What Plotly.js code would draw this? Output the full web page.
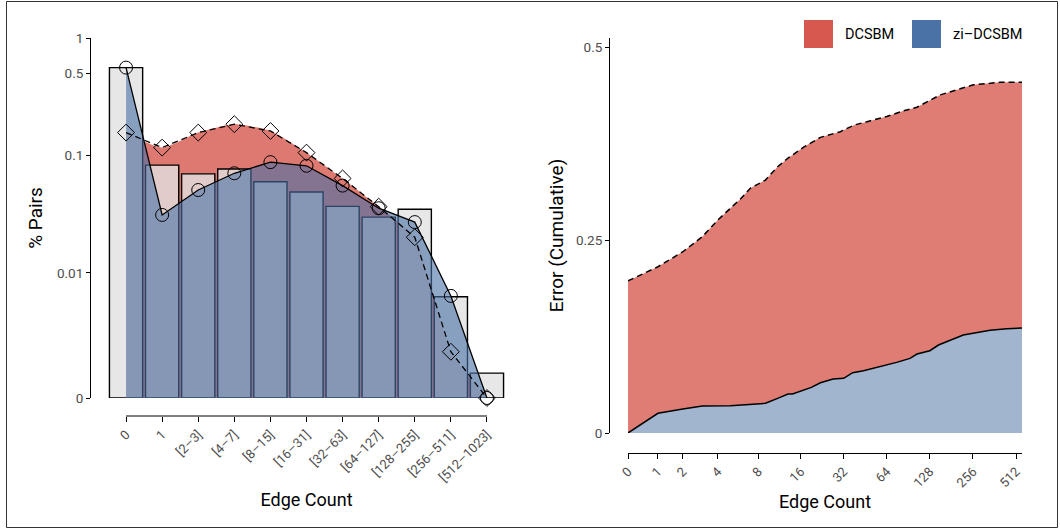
<!DOCTYPE html>
<html>
<head>
<meta charset="utf-8">
<script src="https://cdn.plot.ly/plotly-3.0.1.min.js"></script>
<style>html,body{margin:0;padding:0;background:#fff;}#chart{width:1060px;height:531px;}</style>
</head>
<body>
<div id="chart"></div>
<script>
// ---------- data: left panel (% pairs per edge-count bin) ----------
const categories = ['0','1','[2–3]','[4–7]','[8–15]','[16–31]','[32–63]','[64–127]','[128–255]','[256–511]','[512–1023]'];
const observedPct = [0.56, 0.083, 0.070, 0.077, 0.060, 0.049, 0.037, 0.030, 0.035, 0.0062, 0.00088];
const dcsbmPct    = [0.157, 0.117, 0.157, 0.185, 0.162, 0.106, 0.064, 0.0368, 0.0202, 0.0018, 0];
const ziPct       = [0.56, 0.0313, 0.051, 0.0708, 0.088, 0.082, 0.0556, 0.0357, 0.0272, 0.0063, 0];
const leftYTicks  = [0, 0.01, 0.1, 0.5, 1];
const leftYLabels = ['0', '0.01', '0.1', '0.5', '1'];

// ---------- data: right panel (cumulative error) ----------
const dcsbmEdge = [0,1,2,3,4,5,6,7,9,11,13,17,22,30,38,46,64,84,104,151,197,257,395,563];
const dcsbmErr  = [0.197,0.2154,0.2348,0.2543,0.2759,0.291,0.304,0.317,0.3277,0.345,0.356,0.371,0.383,0.390,0.399,0.403,0.410,0.4175,0.422,0.438,0.444,0.451,0.4543,0.4543];
const ziEdge = [0,1,2,3,5,9,11,13,14,16,19,22,27,32,37,44,58,75,93,104,128,147,219,257,337,441,563];
const ziErr  = [0,0.0255,0.0311,0.035,0.0354,0.0385,0.0449,0.0505,0.0505,0.0544,0.0591,0.0651,0.0699,0.0708,0.0781,0.0807,0.0858,0.0915,0.0967,0.1023,0.1066,0.114,0.1269,0.1295,0.133,0.1352,0.136];
const rightXTicks = [0,1,2,4,8,16,32,64,128,256,512];
const rightYTicks = [0, 0.25, 0.5];
const rightYLabels = ['0', '0.25', '0.5'];
const legendNames = ['DCSBM', 'zi–DCSBM'];

// ---------- pseudo-log transforms ----------
const sigmaL = 0.00087;
const plogL = v => Math.asinh(v / (2 * sigmaL)) / Math.LN10;
const plogR = v => Math.asinh(v / 2);

const RED = 'rgb(214,88,78)';
const BLUE = 'rgb(74,114,166)';
const FONT = 'Roboto, "Noto Sans", sans-serif';
const W = 1060, H = 531;
const px = x => x / W, py = y => 1 - y / H;

const traces = [
  {type:'scatter', mode:'none', x:categories, y:dcsbmPct.map(plogL), fill:'tozeroy',
   fillcolor:'rgba(214,88,78,0.8)', line:{shape:'spline', smoothing:0.6}, xaxis:'x', yaxis:'y', showlegend:false, hoverinfo:'skip'},
  {type:'bar', x:categories, y:observedPct.map(plogL), width:0.92,
   marker:{color:'rgba(225,225,225,0.8)', line:{color:'#000', width:1.4}}, xaxis:'x2', yaxis:'y2', showlegend:false},
  {type:'scatter', mode:'none', x:categories, y:ziPct.map(plogL), fill:'tozeroy',
   fillcolor:'rgba(74,114,166,0.6)', xaxis:'x3', yaxis:'y3', showlegend:false, hoverinfo:'skip'},
  {type:'scatter', mode:'lines+markers', x:categories, y:dcsbmPct.map(plogL), cliponaxis:false,
   line:{color:'#000', width:1.3, dash:'6px,4px'},
   marker:{symbol:'diamond-open', size:13, color:'#000', line:{width:1}}, xaxis:'x3', yaxis:'y3', name:legendNames[0], showlegend:false},
  {type:'scatter', mode:'lines+markers', x:categories, y:ziPct.map(plogL), cliponaxis:false,
   line:{color:'#000', width:1.3},
   marker:{symbol:'circle-open', size:13, color:'#000', line:{width:1}}, xaxis:'x3', yaxis:'y3', name:legendNames[1], showlegend:false},
  {type:'scatter', mode:'lines', x:dcsbmEdge.map(plogR), y:dcsbmErr, fill:'tozeroy',
   fillcolor:'rgba(214,88,78,0.78)', line:{color:'#000', width:1.5, dash:'6px,4px'}, xaxis:'x4', yaxis:'y4', name:legendNames[0], showlegend:false},
  {type:'scatter', mode:'lines', x:ziEdge.map(plogR), y:ziErr, fill:'tozeroy',
   fillcolor:'rgb(161,181,207)', line:{color:'#000', width:1.5}, xaxis:'x4', yaxis:'y4', name:legendNames[1], showlegend:false}
];

const xDomL = [px(108), px(505)];
const yDomL = [py(398), py(38)];
const xDomR = [px(628), px(1022)];
const yDomR = [py(433), py(38)];
const yRangeL = [0, plogL(1)];
const xRangeL = [-0.5, 10.5];

const tickFont = {family: FONT, size: 13.5, color: '#4d4d4d'};
const xTickFont = {family: FONT, size: 13, color: '#4d4d4d'};
const xTitleFont = {family: FONT, size: 18, color: '#000'};
const yTitleFont = {family: FONT, size: 19, color: '#000'};
const hidden = {visible:false, showgrid:false, zeroline:false, fixedrange:true};

const layout = {
  width: W, height: H,
  margin: {l:0, r:0, t:0, b:0},
  paper_bgcolor: '#fff', plot_bgcolor: 'rgba(0,0,0,0)',
  showlegend: false,
  xaxis: {domain: xDomL, range: xRangeL, type:'category', categoryarray: categories,
    anchor:'free', position: py(416), showline:false, showgrid:false, zeroline:false,
    ticks:'outside', ticklen:5, tickwidth:1, tickcolor:'#000', tickangle:-45,
    tickfont:xTickFont, automargin:false,
    title:{text:'Edge Count', font:xTitleFont, standoff:9}},
  yaxis: {domain: yDomL, range: yRangeL, anchor:'free', position: px(90),
    showline:true, linecolor:'#000', linewidth:1, showgrid:false, zeroline:false,
    tickmode:'array', tickvals: leftYTicks.map(plogL), ticktext: leftYLabels,
    ticks:'outside', ticklen:4, tickwidth:1, tickcolor:'#000', tickfont: tickFont, automargin:false,
    title:{text:'% Pairs', font:yTitleFont, standoff:8}},
  xaxis2: Object.assign({overlaying:'x', anchor:'y2', range:xRangeL, type:'category', categoryarray:categories}, hidden),
  yaxis2: Object.assign({overlaying:'y', anchor:'x2', range:yRangeL}, hidden),
  xaxis3: Object.assign({overlaying:'x', anchor:'y3', range:xRangeL, type:'category', categoryarray:categories}, hidden),
  yaxis3: Object.assign({overlaying:'y', anchor:'x3', range:yRangeL}, hidden),
  xaxis4: {domain: xDomR, range:[plogR(0), plogR(563)], anchor:'free', position: py(453),
    showline:true, linecolor:'#000', linewidth:1, showgrid:false, zeroline:false,
    tickmode:'array', tickvals: rightXTicks.map(plogR), ticktext: rightXTicks.map(String),
    ticks:'outside', ticklen:5, tickwidth:1, tickcolor:'#000', tickangle:-45,
    tickfont:xTickFont, automargin:false,
    title:{text:'Edge Count', font:xTitleFont, standoff:6}},
  yaxis4: {domain: yDomR, range:[0, 0.5117], anchor:'free', position: px(609),
    showline:true, linecolor:'#000', linewidth:1, showgrid:false, zeroline:false,
    tickmode:'array', tickvals: rightYTicks, ticktext: rightYLabels,
    ticks:'outside', ticklen:4, tickwidth:1, tickcolor:'#000', tickfont: tickFont, automargin:false,
    title:{text:'Error (Cumulative)', font:yTitleFont, standoff:6}},
  shapes: [
    {type:'line', xref:'x', yref:'paper', x0:0, x1:10, y0:py(416), y1:py(416), line:{color:'#000', width:1}},
    {type:'rect', xref:'paper', yref:'paper', x0:px(804), x1:px(833), y0:py(48), y1:py(20), fillcolor:RED, line:{width:0}},
    {type:'rect', xref:'paper', yref:'paper', x0:px(912), x1:px(941), y0:py(48), y1:py(20), fillcolor:BLUE, line:{width:0}},
    {type:'rect', xref:'paper', yref:'paper', x0:px(6.5), x1:px(1057.5), y0:py(527.5), y1:py(1.5), line:{color:'#333', width:1}}
  ],
  annotations: [
    {xref:'paper', yref:'paper', x:px(843), y:py(34), xanchor:'left', yanchor:'middle', showarrow:false,
     text:legendNames[0], font:{family:FONT, size:14.5, color:'#000'}},
    {xref:'paper', yref:'paper', x:px(951), y:py(34), xanchor:'left', yanchor:'middle', showarrow:false,
     text:legendNames[1], font:{family:FONT, size:14.5, color:'#000'}}
  ]
};

Plotly.newPlot('chart', traces, layout, {displayModeBar:false, staticPlot:true});
</script>
</body>
</html>
